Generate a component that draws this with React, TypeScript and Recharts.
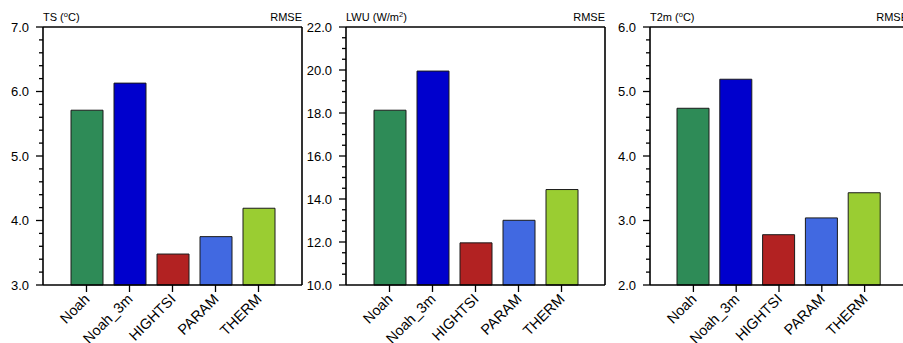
import { Bar, BarChart, Cell, XAxis, YAxis } from "recharts";

const models = ["Noah", "Noah_3m", "HIGHTSI", "PARAM", "THERM"];
const barColors = ["#2e8b57", "#0000cd", "#b22222", "#4169e1", "#9acd32"];

const tsRmse = [5.71, 6.13, 3.48, 3.75, 4.19];
const lwuRmse = [18.13, 19.95, 11.96, 13.01, 14.44];
const t2mRmse = [4.74, 5.19, 2.78, 3.04, 3.43];

const tsMajor = [3.0, 4.0, 5.0, 6.0, 7.0];
const lwuMajor = [10.0, 12.0, 14.0, 16.0, 18.0, 20.0, 22.0];
const t2mMajor = [2.0, 3.0, 4.0, 5.0, 6.0];

const FONT = "'Liberation Sans', Arial, Helvetica, sans-serif";
const H = 343;
const TOP = 27;
const BOTTOM = 58;
const LEFT_W = 43;
const RIGHT_W = 10;

// minor ticks between the labelled ones
const withMinor = (major: number[], step: number) => {
  const out: number[] = [];
  const lo = major[0];
  const hi = major[major.length - 1];
  const n = Math.round((hi - lo) / step);
  for (let i = 0; i <= n; i++) out.push(Math.round((lo + i * step) * 1000) / 1000);
  return out;
};

const isMajor = (major: number[], v: number) =>
  major.some((m) => Math.abs(m - v) < 1e-6);

const LeftTick = ({ x, y, payload, major }: any) => {
  const big = isMajor(major, payload.value);
  return (
    <g>
      <line x1={x} x2={x - (big ? 7 : 4)} y1={y} y2={y} stroke="#000" strokeWidth={1.3} />
      {big && (
        <text
          x={x - 14}
          y={y}
          textAnchor="end"
          dominantBaseline="central"
          fontSize={13}
          fontFamily={FONT}
          fill="#000"
        >
          {payload.value.toFixed(1)}
        </text>
      )}
    </g>
  );
};

const RightTick = ({ x, y, payload, major }: any) => {
  const big = isMajor(major, payload.value);
  return (
    <line x1={x} x2={x + (big ? 7 : 4)} y1={y} y2={y} stroke="#000" strokeWidth={1.3} />
  );
};

const CatTick = ({ x, y, payload }: any) => {
  const ax = x + 4;
  const ay = y + 8;
  return (
    <text
      x={ax}
      y={ay}
      transform={`rotate(-45, ${ax}, ${ay})`}
      textAnchor="end"
      fontSize={14.5}
      fontFamily={FONT}
      fill="#000"
    >
      {payload.value}
    </text>
  );
};

type PanelProps = {
  left: number;
  plotWidth: number;
  values: number[];
  major: number[];
  step: number;
  name: string;
  unit: string;
  sup: string;
  unitEnd: string;
};

const Panel = ({ left, plotWidth, values, major, step, name, unit, sup, unitEnd }: PanelProps) => {
  const data = models.map((m, i) => ({ name: m, value: values[i] }));
  const ticks = withMinor(major, step);
  const domain = [major[0], major[major.length - 1]];
  const width = LEFT_W + plotWidth + RIGHT_W;
  const pad = Math.round((plotWidth - 5 * 43) / 2);
  return (
    <div style={{ position: "absolute", left: left - LEFT_W, top: 0 }}>
      <BarChart width={width} height={H} data={data} margin={{ top: 0, right: 0, bottom: 0, left: 0 }}>
        <XAxis
          dataKey="name"
          height={BOTTOM}
          padding={{ left: pad, right: pad }}
          interval={0}
          tickSize={7}
          tickMargin={0}
          axisLine={{ stroke: "#000", strokeWidth: 1.6 }}
          tickLine={{ stroke: "#000", strokeWidth: 1.3 }}
          tick={<CatTick />}
        />
        <XAxis
          xAxisId="top"
          dataKey="name"
          orientation="top"
          height={TOP}
          tick={false}
          tickLine={false}
          axisLine={{ stroke: "#000", strokeWidth: 1.6 }}
        />
        <YAxis
          type="number"
          domain={domain}
          ticks={ticks}
          interval={0}
          width={LEFT_W}
          tickSize={0}
          tickMargin={0}
          tickLine={false}
          axisLine={{ stroke: "#000", strokeWidth: 1.6 }}
          tick={(p: any) => <LeftTick {...p} major={major} />}
        />
        <YAxis
          yAxisId="r"
          orientation="right"
          type="number"
          domain={domain}
          ticks={ticks}
          interval={0}
          width={RIGHT_W}
          tickSize={0}
          tickMargin={0}
          tickLine={false}
          axisLine={{ stroke: "#000", strokeWidth: 1.6 }}
          tick={(p: any) => <RightTick {...p} major={major} />}
        />
        <Bar dataKey="value" barSize={32} stroke="#1a1a1a" strokeWidth={1} isAnimationActive={false}>
          {data.map((d, i) => (
            <Cell key={d.name} fill={barColors[i]} />
          ))}
        </Bar>
        <text x={LEFT_W} y={21} fontSize={11} fontFamily={FONT} fill="#000">
          {name} ({unit}
          <tspan dy={-4} fontSize={7.5}>
            {sup}
          </tspan>
          <tspan dy={4}>{unitEnd})</tspan>
        </text>
        <text x={LEFT_W + plotWidth} y={21} fontSize={11} fontFamily={FONT} fill="#000" textAnchor="end">
          RMSE
        </text>
      </BarChart>
    </div>
  );
};

export default function App() {
  return (
    <div
      style={{
        position: "absolute",
        left: 0,
        top: 0,
        width: 903,
        height: H,
        overflow: "hidden",
        background: "#fff",
      }}
    >
      <Panel left={43} plotWidth={259} values={tsRmse} major={tsMajor} step={0.2} name="TS" unit="" sup="o" unitEnd="C" />
      <Panel left={346} plotWidth={259} values={lwuRmse} major={lwuMajor} step={0.5} name="LWU" unit="W/m" sup="2" unitEnd="" />
      <Panel left={650} plotWidth={258} values={t2mRmse} major={t2mMajor} step={0.2} name="T2m" unit="" sup="o" unitEnd="C" />
    </div>
  );
}
